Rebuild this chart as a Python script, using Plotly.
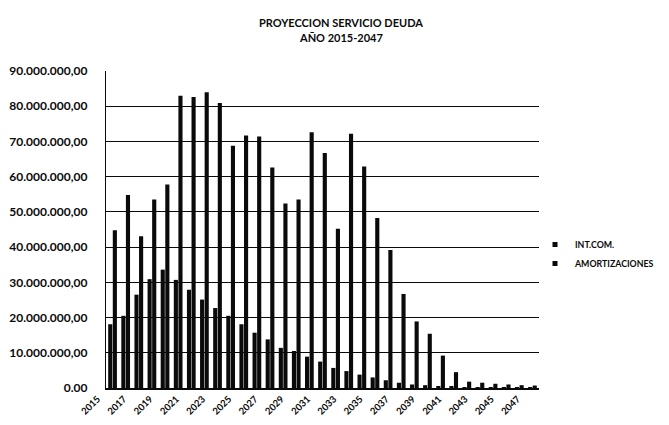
import plotly.graph_objects as go

years = [str(y) for y in range(2015, 2048)]
int_com = [18.1, 20.5, 26.5, 30.9, 33.6, 30.7, 27.9, 25.1, 22.7, 20.5, 18.1, 15.7,
           13.8, 11.4, 10.5, 8.9, 7.5, 5.7, 4.8, 3.8, 3.0, 2.2, 1.5, 1.0, 0.8, 0.5,
           0.3, 0.2, 0.2, 0.1, 0.1, 0.05, 0.03]
amortizaciones = [44.8, 54.8, 43.1, 53.5, 57.8, 83.0, 82.6, 84.0, 80.9, 68.8, 71.7, 71.4,
                  62.6, 52.4, 53.5, 72.6, 66.7, 45.2, 72.2, 62.9, 48.3, 39.2, 26.7, 18.9,
                  15.4, 9.2, 4.5, 1.8, 1.5, 1.2, 1.0, 0.8, 0.7]
int_com = [v * 1e6 for v in int_com]
amortizaciones = [v * 1e6 for v in amortizaciones]

series_names = ["INT.COM.", "AMORTIZACIONES"]
tick_years = [str(y) for y in range(2015, 2048, 2)]
y_tickvals = [i * 10_000_000 for i in range(10)]
y_ticktext = ["0.00"] + [f"{i*10}.000.000,00" for i in range(1, 10)]

FONT = "Lato"
INK = "#0a0a0a"

fig = go.Figure()
for name, vals in zip(series_names, [int_com, amortizaciones]):
    fig.add_trace(go.Bar(x=years, y=vals, name=name, marker_color=INK,
                         marker_line_width=0, showlegend=False, legendgroup=name))
# small square legend symbols, as in the reference
for name in series_names:
    fig.add_trace(go.Scatter(x=[None], y=[None], mode="markers", name=name,
                             legendgroup=name,
                             marker=dict(symbol="square", size=5, color=INK)))

fig.update_layout(
    width=669, height=425,
    paper_bgcolor="white", plot_bgcolor="white",
    margin=dict(l=98, r=138, t=63, b=45, autoexpand=False),
    barmode="group", bargap=0.3, bargroupgap=0.1,
    font=dict(family=FONT, size=10, color=INK, weight="bold"),
    legend=dict(xref="container", yref="container", x=527 / 669, xanchor="left",
                y=1 - 222 / 425, yanchor="top",
                font=dict(family=FONT, size=8.8, color=INK, weight="bold"),
                bgcolor="rgba(0,0,0,0)", tracegroupgap=0, itemwidth=30,
                itemsizing="trace"),
    showlegend=True,
    annotations=[
        dict(text="PROYECCION SERVICIO DEUDA", xref="paper", yref="paper",
             x=(333 - 98) / 433, y=1 + (63 - 14) / 317, xanchor="center", yanchor="middle",
             showarrow=False, font=dict(family=FONT, size=11, color=INK, weight="bold")),
        dict(text="AÑO 2015-2047", xref="paper", yref="paper",
             x=(333 - 98) / 433, y=1 + (63 - 29) / 317, xanchor="center", yanchor="middle",
             showarrow=False, font=dict(family=FONT, size=11, color=INK, weight="bold")),
    ],
)
fig.update_xaxes(type="category", tickmode="array", tickvals=tick_years, ticktext=tick_years,
                 tickangle=-45, showgrid=False, showline=True, linecolor=INK, linewidth=1.5,
                 ticks="", ticklabelshift=-15, automargin=False,
                 tickfont=dict(family=FONT, size=9.5, color=INK, weight="bold"))
fig.update_yaxes(range=[0, 90_000_000], tickmode="array", tickvals=y_tickvals,
                 ticktext=y_ticktext, automargin=False,
                 showgrid=True, gridcolor=INK, gridwidth=1.3,
                 showline=True, linecolor=INK, linewidth=1.3, zeroline=False,
                 ticks="", ticklabelstandoff=15,
                 tickfont=dict(family=FONT, size=12, color=INK, weight="bold"))

fig.write_html("out.html")
